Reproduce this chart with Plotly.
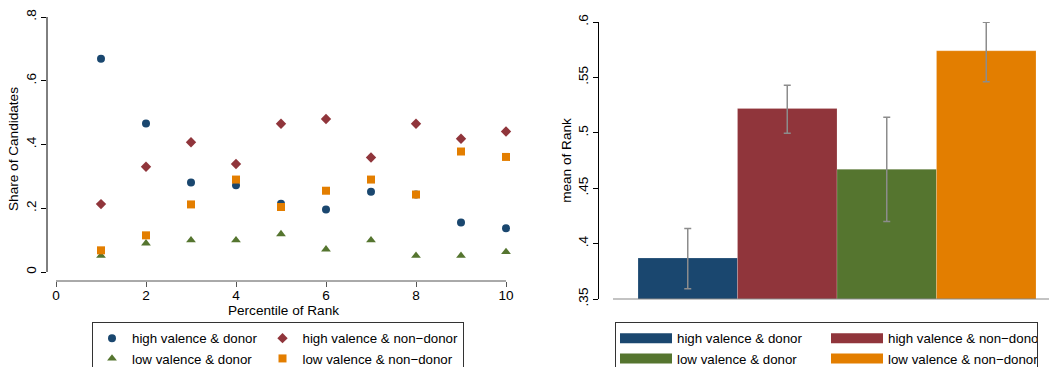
import plotly.graph_objects as go

W, H = 1049, 367

# ---------------- data ----------------
percentile = [1, 2, 3, 4, 5, 6, 7, 8, 9, 10]
hv_donor = [0.669, 0.466, 0.281, 0.272, 0.214, 0.196, 0.252, 0.243, 0.155, 0.137]
hv_nondonor = [0.213, 0.330, 0.407, 0.339, 0.465, 0.480, 0.359, 0.465, 0.418, 0.441]
lv_donor = [0.051, 0.090, 0.100, 0.100, 0.119, 0.071, 0.100, 0.051, 0.051, 0.063]
lv_nondonor = [0.068, 0.115, 0.212, 0.290, 0.204, 0.255, 0.290, 0.243, 0.378, 0.361]

groups = ["high valence & donor", "high valence & non\u2212donor",
          "low valence & donor", "low valence & non\u2212donor"]
bar_pos = [1, 2, 3, 4]
mean_rank = [0.387, 0.522, 0.467, 0.574]
ci_upper = [0.4136, 0.543, 0.514, 0.5997]
ci_lower = [0.3593, 0.4995, 0.420, 0.546]

left_yticks = [0, 0.2, 0.4, 0.6, 0.8]
left_yticktext = ["0", ".2", ".4", ".6", ".8"]
left_xticks = [0, 2, 4, 6, 8, 10]
right_yticks = [0.35, 0.4, 0.45, 0.5, 0.55, 0.6]
right_yticktext = [".35", ".4", ".45", ".5", ".55", ".6"]

colors = ["#1a476f", "#90353b", "#55752f", "#e37e00"]
FONT = "Liberation Sans, Arial, sans-serif"
FS = 13.6
LFS = 13.3

def px_x(p):
    return p / W

def px_y(p):
    return (H - p) / H

fig = go.Figure()

# ---------------- left panel: scatter ----------------
series = [hv_donor, hv_nondonor, lv_donor, lv_nondonor]
symbols = ["circle", "diamond", "triangle-up", "square"]
sizes = [8, 8, 8.5, 8]
lgroups = ["a", "b", "a", "b"]
for s, name, col, sym, sz, lg in zip(series, groups, colors, symbols, sizes, lgroups):
    fig.add_trace(go.Scatter(
        x=percentile, y=s, mode="markers", name=name,
        marker=dict(color=col, symbol=sym, size=sz, line=dict(width=0)),
        legendgroup=lg, legend="legend", cliponaxis=False,
        xaxis="x", yaxis="y"))

# ---------------- right panel: bars ----------------
fig.add_trace(go.Bar(
    x=bar_pos, y=mean_rank, width=1,
    marker=dict(color=colors, line=dict(color="rgba(255,255,255,0.3)", width=0.6)),
    error_y=dict(type="data", symmetric=False,
                 array=[u - m for u, m in zip(ci_upper, mean_rank)],
                 arrayminus=[m - l for m, l in zip(mean_rank, ci_lower)],
                 color="#8c8c8c", thickness=1.5, width=3.5),
    showlegend=False, xaxis="x2", yaxis="y2"))

# legend swatches for the bar panel
for name, col, lg in zip(groups, colors, lgroups):
    fig.add_trace(go.Scatter(
        x=[None], y=[None], mode="lines", name=name,
        line=dict(color=col, width=14), legendgroup=lg + "2",
        legend="legend2", xaxis="x2", yaxis="y2"))

# ---------------- axes ----------------
lx0, lx1 = 47, 520
ppu_x = 45.0
ly_top, ly_bot = 17, 281
ppu_y = (272 - 17) / 0.8

rx0 = 599
bar_ppu = 99.5
r_left = 0.5 - (638 - rx0) / bar_ppu
r_right = r_left + (W - rx0) / bar_ppu
ry_top, ry_bot = 22, 299

tickfont = dict(family=FONT, size=FS, color="#000")
titlefont = dict(family=FONT, size=FS, color="#000")

fig.update_layout(
    width=W, height=H,
    margin=dict(l=0, r=0, t=0, b=0, autoexpand=False),
    paper_bgcolor="white", plot_bgcolor="white",
    font=dict(family=FONT, size=FS, color="#000"),
    xaxis=dict(domain=[px_x(lx0), px_x(lx1)],
               range=[-0.2, -0.2 + (lx1 - lx0) / ppu_x],
               tickvals=left_xticks, ticks="outside", ticklen=5, tickcolor="#555",
               ticklabelstandoff=-3,
               showline=False, showgrid=False, zeroline=False, tickfont=tickfont,
               title=dict(text="Percentile of Rank", font=titlefont, standoff=0),
               anchor="y"),
    yaxis=dict(domain=[px_y(ly_bot), px_y(ly_top)],
               range=[-(ly_bot - 272) / ppu_y, 0.8],
               tickvals=left_yticks, ticktext=left_yticktext, tickangle=-90,
               ticks="outside", ticklen=5, tickcolor="#000",
               showline=False, showgrid=False, zeroline=False, tickfont=tickfont,
               title=dict(text="Share of Candidates", font=titlefont, standoff=1),
               anchor="x"),
    xaxis2=dict(domain=[px_x(rx0), 1], range=[r_left, r_right],
                showticklabels=False, ticks="", showline=False, showgrid=False,
                zeroline=False, anchor="y2"),
    yaxis2=dict(domain=[px_y(ry_bot), px_y(ry_top)], range=[0.35, 0.6],
                tickvals=right_yticks, ticktext=right_yticktext, tickangle=-90,
                ticks="outside", ticklen=5, tickcolor="#000",
                showline=True, linecolor="#000", linewidth=1,
                showgrid=False, zeroline=False, tickfont=tickfont,
                title=dict(text="mean of Rank", font=titlefont, standoff=0),
                anchor="x2"),
    legend=dict(orientation="h", traceorder="grouped",
                x=px_x(92), y=px_y(322), xanchor="left", yanchor="top",
                xref="paper", yref="paper",
                bordercolor="#333", borderwidth=1, bgcolor="white",
                font=dict(family=FONT, size=LFS, color="#000"),
                tracegroupgap=0, itemwidth=30),
    legend2=dict(orientation="h", traceorder="grouped",
                 x=px_x(615), y=px_y(322), xanchor="left", yanchor="top",
                 xref="paper", yref="paper",
                 bordercolor="#333", borderwidth=1, bgcolor="white",
                 font=dict(family=FONT, size=LFS, color="#000"),
                 tracegroupgap=0, itemwidth=52,
                 entrywidth=144, entrywidthmode="pixels"),
    showlegend=True,
)

# axis lines drawn over the tick range only (Stata style)
fig.add_shape(type="line", xref="x", yref="y domain", x0=0, x1=10, y0=0, y1=0,
              line=dict(color="#555", width=1))
fig.add_shape(type="line", xref="x domain", yref="y", x0=0, x1=0, y0=0, y1=0.8,
              line=dict(color="#000", width=1))
fig.add_shape(type="line", xref="x2", yref="y2 domain",
              x0=0.5 - (638 - 613) / bar_ppu, x1=r_right, y0=0, y1=0,
              line=dict(color="#888", width=1.2))

fig.write_html("out.html")
